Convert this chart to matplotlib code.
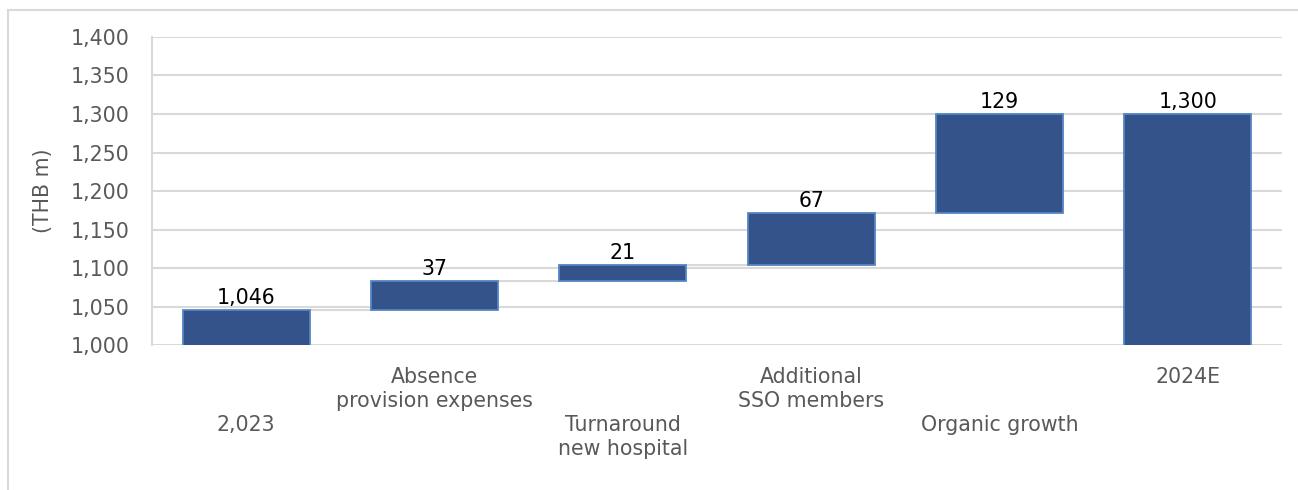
import matplotlib
matplotlib.use("Agg")
import matplotlib.pyplot as plt
from matplotlib.lines import Line2D
import matplotlib.transforms as mtransforms

categories = ["2,023", "Absence\nprovision expenses", "Turnaround\nnew hospital",
              "Additional\nSSO members", "Organic growth", "2024E"]
values = [1046, 37, 21, 67, 129, 1300]
bar_labels = ["1,046", "37", "21", "67", "129", "1,300"]
is_total = [True, False, False, False, False, True]
yticks = [1000, 1050, 1100, 1150, 1200, 1250, 1300, 1350, 1400]

plt.rcParams['font.family'] = ['DejaVu Sans']
FS = 14.8

fig = plt.figure(figsize=(12.98, 4.90), dpi=100)
ax = fig.add_axes([0.1171, 0.2959, 0.8706, 0.6286])

bottoms, tops = [], []
running = 0
for v, t in zip(values, is_total):
    if t:
        b, top = 0, v
        running = v
    else:
        b, top = running, running + v
        running = top
    bottoms.append(b)
    tops.append(top)

heights = [t - b for t, b in zip(tops, bottoms)]
x = list(range(len(categories)))
face = "#34538a"
edge = "#5585c4"
ax.bar(x, heights, bottom=bottoms, width=0.675, color=face, edgecolor=edge,
       linewidth=1.3, zorder=3)

# connectors
for i in range(len(x) - 1):
    ax.plot([x[i] + 0.3375, x[i + 1] - 0.3375], [tops[i], tops[i]],
            color="#d9d9d9", lw=1.5, zorder=2)

for xi, t, lab in zip(x, tops, bar_labels):
    ax.annotate(lab, (xi, t), xytext=(0, 1.5), textcoords="offset points",
                ha="center", va="bottom", fontsize=FS, color="black", zorder=4)

ax.set_ylim(1000, 1400)
ax.set_xlim(-0.5, 5.5)
ax.set_yticks(yticks)
ax.set_yticklabels([f"{v:,}" for v in yticks], fontsize=FS, color="#595959")
ax.yaxis.grid(True, color="#d9d9d9", lw=1.5, zorder=0)
ax.set_axisbelow(True)
ax.tick_params(axis="y", length=0, pad=16)
ax.tick_params(axis="x", length=0)
ax.set_xticks([])
for s in ["top", "right", "bottom"]:
    ax.spines[s].set_visible(False)
ax.spines["left"].set_color("#d9d9d9")
ax.spines["left"].set_linewidth(1.5)
ax.set_ylabel("(THB m)", fontsize=FS, color="#595959", labelpad=13)

trans = mtransforms.blended_transform_factory(ax.transData, fig.transFigure)
for i, lab in enumerate(categories):
    ytop = 1 - (367 / 490) if i % 2 == 1 else 1 - (415 / 490)
    ax.text(i, ytop, lab, transform=trans, ha="center", va="top",
            fontsize=FS, color="#595959", linespacing=1.25)

fig.add_artist(Line2D([8 / 1298, 8 / 1298], [0, 1 - 10 / 490], transform=fig.transFigure,
                      color="#d9d9d9", lw=1.5))
fig.add_artist(Line2D([8 / 1298, 1], [1 - 10 / 490, 1 - 10 / 490], transform=fig.transFigure,
                      color="#d9d9d9", lw=1.5))

fig.savefig("out.png", dpi=100)
